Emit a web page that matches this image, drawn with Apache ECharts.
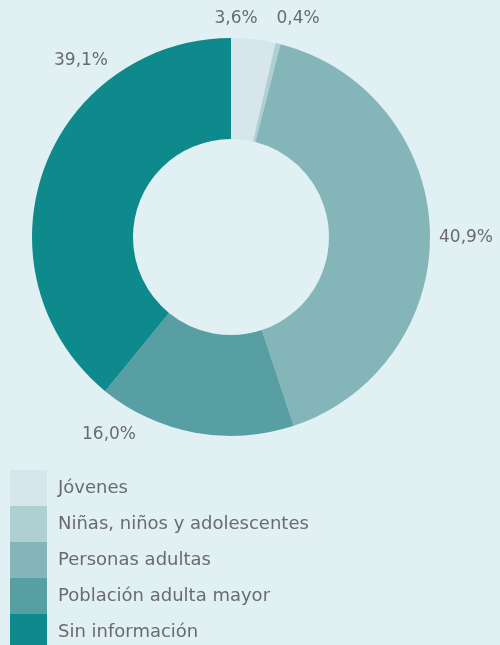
<!DOCTYPE html>
<html>
<head>
<meta charset="utf-8">
<script src="https://cdn.jsdelivr.net/npm/echarts@6/dist/echarts.min.js"></script>
<style>
  html, body { margin: 0; padding: 0; background: #e1f0f3; }
  #pie { width: 500px; height: 645px; }
</style>
</head>
<body>
<div id="pie"></div>
<script>
var categories = ['Jóvenes', 'Niñas, niños y adolescentes', 'Personas adultas', 'Población adulta mayor', 'Sin información'];
var values = [3.6, 0.4, 40.9, 16.0, 39.1];
var colors = ['#d6e6ea', '#afd0d3', '#84b6b9', '#579fa3', '#0e898c'];
// where each percentage label sits (px), in data order
var labelPos = [[236, 19], [298, 19], [466, 238], [109, 435], [81, 61]];

var chartDom = document.getElementById('pie');
var myChart = echarts.init(chartDom);
var option;
option = {
  backgroundColor: '#e1f0f3',
  color: colors,
  textStyle: { fontFamily: 'DejaVu Sans' },
  legend: {
    orient: 'vertical',
    left: 10,
    top: 470,
    height: 200,
    padding: 0,
    itemWidth: 37,
    itemHeight: 36,
    itemGap: 0,
    icon: 'rect',
    textStyle: {
      fontSize: 18,
      color: '#6b6b6b',
      padding: [0, 0, 0, 6]
    },
    data: categories
  },
  series: [
    {
      name: 'pie',
      type: 'pie',
      center: [231, 237],
      radius: [98, 199],
      startAngle: 90,
      clockwise: true,
      avoidLabelOverlap: false,
      label: {
        show: true,
        position: 'outside',
        fontSize: 17,
        color: '#6b6b6b',
        formatter: function (p) {
          return p.value.toFixed(1).replace('.', ',') + '%';
        }
      },
      labelLine: { show: false },
      labelLayout: function (params) {
        var pos = labelPos[params.dataIndex];
        return { x: pos[0], y: pos[1], align: 'center', verticalAlign: 'middle' };
      },
      emphasis: { disabled: true },
      data: categories.map(function (c, i) {
        return { name: c, value: values[i] };
      })
    }
  ]
};
myChart.setOption(option);
</script>
</body>
</html>
